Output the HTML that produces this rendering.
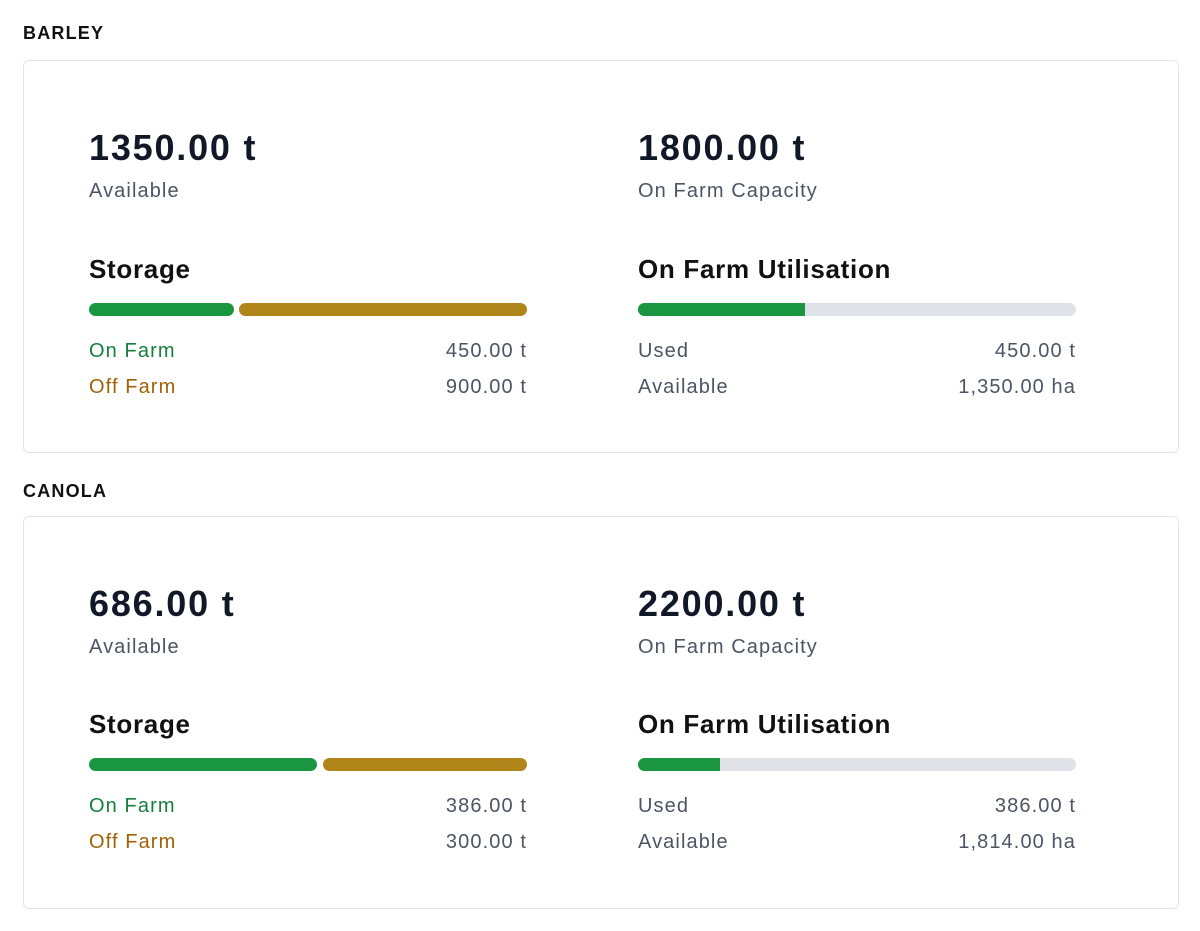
<!DOCTYPE html>
<html><head><meta charset="utf-8"><style>
*{margin:0;padding:0;box-sizing:border-box}
body{width:1200px;height:931px;background:#fff;font-family:"Liberation Sans",sans-serif;position:relative;overflow:hidden}
.a{position:absolute;white-space:nowrap}
.t{font-size:18px;font-weight:bold;color:#111;line-height:18px;letter-spacing:1.2px}
.card{position:absolute;left:23px;width:1156px;height:393px;border:1.5px solid #e2e4e8;border-radius:6px}
.big{font-size:36px;font-weight:bold;color:#111827;line-height:36px;letter-spacing:1.8px}
.lab{font-size:20px;color:#4b5563;line-height:20px;letter-spacing:1.1px}
.h{font-size:26px;font-weight:bold;color:#111;line-height:26px;letter-spacing:0.7px}
.bar{position:absolute;height:13px;border-radius:7px}
.g{background:#1a9641}.o{background:#b0861a}.gr{background:#dfe2e6}
.r{text-align:right;width:200px;margin-right:-1px}
</style></head><body>

<div class="a t" style="left:23px;top:24px">BARLEY</div>
<div class="card" style="top:60px"></div>
<div class="a big" style="left:89px;top:130px">1350.00 t</div>
<div class="a lab" style="left:89px;top:181px">Available</div>
<div class="a big" style="left:638px;top:130px">1800.00 t</div>
<div class="a lab" style="left:638px;top:181px">On Farm Capacity</div>
<div class="a h" style="left:89px;top:256px">Storage</div>
<div class="a h" style="left:638px;top:256px">On Farm Utilisation</div>
<div class="bar g" style="left:89px;top:303px;width:145px"></div>
<div class="bar o" style="left:239px;top:303px;width:288px"></div>
<div class="bar gr" style="left:638px;top:303px;width:438px"></div>
<div class="bar g" style="left:638px;top:303px;width:167px;border-radius:7px 0 0 7px"></div>
<div class="a lab" style="left:89px;top:341px;color:#15803d">On Farm</div>
<div class="a lab r" style="left:327px;top:341px">450.00 t</div>
<div class="a lab" style="left:89px;top:377px;color:#a16207">Off Farm</div>
<div class="a lab r" style="left:327px;top:377px">900.00 t</div>
<div class="a lab" style="left:638px;top:341px">Used</div>
<div class="a lab r" style="left:876px;top:341px">450.00 t</div>
<div class="a lab" style="left:638px;top:377px">Available</div>
<div class="a lab r" style="left:876px;top:377px">1,350.00 ha</div>

<div class="a t" style="left:23px;top:482px">CANOLA</div>
<div class="card" style="top:516px"></div>
<div class="a big" style="left:89px;top:586px">686.00 t</div>
<div class="a lab" style="left:89px;top:637px">Available</div>
<div class="a big" style="left:638px;top:586px">2200.00 t</div>
<div class="a lab" style="left:638px;top:637px">On Farm Capacity</div>
<div class="a h" style="left:89px;top:711px">Storage</div>
<div class="a h" style="left:638px;top:711px">On Farm Utilisation</div>
<div class="bar g" style="left:89px;top:758px;width:228px"></div>
<div class="bar o" style="left:323px;top:758px;width:204px"></div>
<div class="bar gr" style="left:638px;top:758px;width:438px"></div>
<div class="bar g" style="left:638px;top:758px;width:82px;border-radius:7px 0 0 7px"></div>
<div class="a lab" style="left:89px;top:796px;color:#15803d">On Farm</div>
<div class="a lab r" style="left:327px;top:796px">386.00 t</div>
<div class="a lab" style="left:89px;top:832px;color:#a16207">Off Farm</div>
<div class="a lab r" style="left:327px;top:832px">300.00 t</div>
<div class="a lab" style="left:638px;top:796px">Used</div>
<div class="a lab r" style="left:876px;top:796px">386.00 t</div>
<div class="a lab" style="left:638px;top:832px">Available</div>
<div class="a lab r" style="left:876px;top:832px">1,814.00 ha</div>
</body></html>
